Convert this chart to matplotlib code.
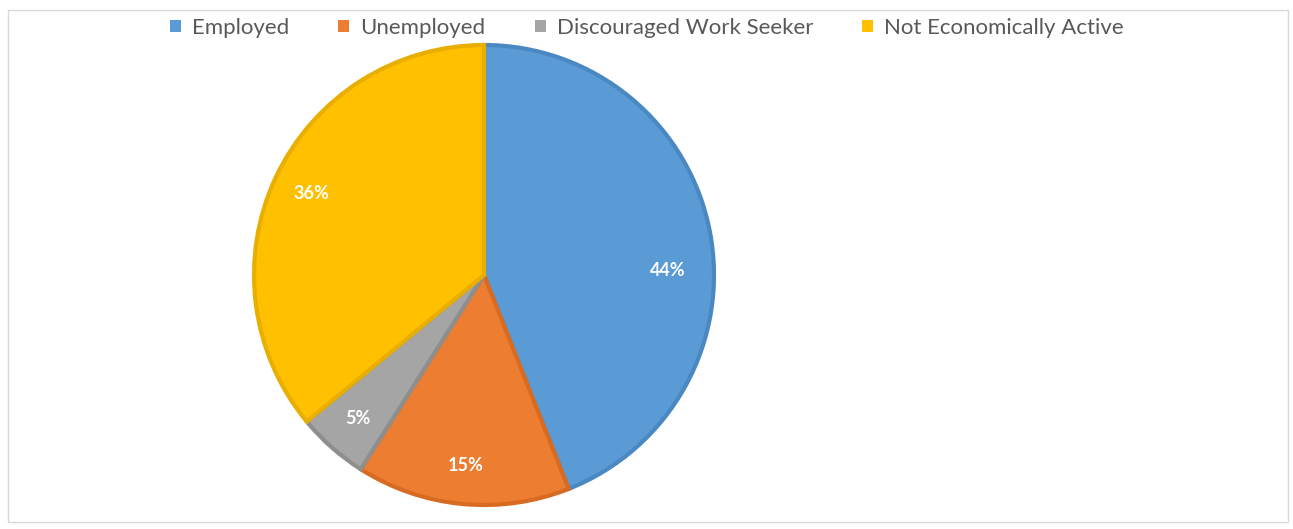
import numpy as np
import matplotlib.pyplot as plt
from matplotlib.patches import Rectangle, Patch

# Labour force status shares (%)
labels = ['Employed', 'Unemployed', 'Discouraged Work Seeker', 'Not Economically Active']
shares = [44, 15, 5, 36]
colors = ['#5B9BD5', '#ED7D31', '#A5A5A5', '#FFC000']
edges = ['#4A88C2', '#D86B22', '#8E8E8E', '#E8AE00']

plt.rcParams['font.family'] = ['Lato', 'DejaVu Sans']

W, H = 1293, 529
fig = plt.figure(figsize=(W / 100, H / 100), dpi=100)

# chart frame
fig.patches.append(Rectangle((8 / W, 7 / H), 1280 / W, 512 / H, transform=fig.transFigure,
                             fill=False, edgecolor='#d9d9d9', linewidth=1))

# pie axes: centre (484, 275), radius 230 px
r = 230
ax = fig.add_axes([(484 - r) / W, (H - 275 - r) / H, 2 * r / W, 2 * r / H])
wedges, texts, autotexts = ax.pie(shares, colors=colors, startangle=90, counterclock=False,
                                  autopct='%1.0f%%', pctdistance=0.83, radius=1,
                                  wedgeprops=dict(linewidth=3, edgecolor='white'),
                                  textprops=dict(color='white', fontsize=13, fontweight='bold'))
for w, e in zip(wedges, edges):
    w.set_edgecolor(e)
# Excel nudges the 44% label down a bit
autotexts[0].set_position((0.80, 0.02))
ax.set_xlim(-1, 1)
ax.set_ylim(-1, 1)
ax.set_aspect('equal')
ax.axis('off')

handles = [Patch(facecolor=c, edgecolor='none') for c in colors]
fig.legend(handles, labels, loc='center', bbox_to_anchor=(647 / W, 1 - 28 / H), ncol=4,
           frameon=False, fontsize=16, handlelength=0.5, handleheight=0.5, handletextpad=0.5,
           columnspacing=2.2, labelcolor='#595959')

fig.savefig('out.png', dpi=100)
